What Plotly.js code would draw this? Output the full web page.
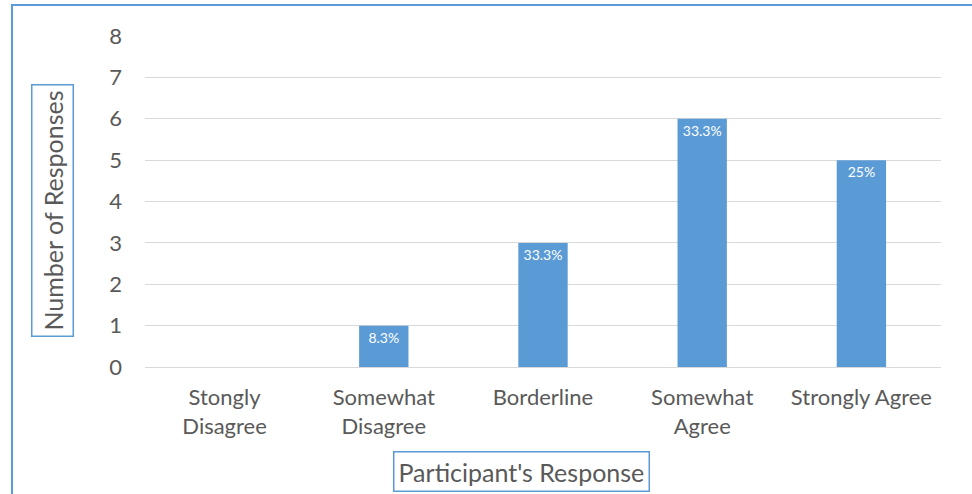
<!DOCTYPE html>
<html>
<head>
<meta charset="utf-8">
<script src="https://cdn.plot.ly/plotly-3.0.1.min.js"></script>
<style>html,body{margin:0;padding:0;background:#fff;}#chart{width:972px;height:494px;}</style>
</head>
<body>
<div id="chart"></div>
<script>
const categories = ["Stongly<br>Disagree", "Somewhat<br>Disagree", "Borderline", "Somewhat<br>Agree", "Strongly Agree"];
const responses = [0, 1, 3, 6, 5];
const percentLabels = ["", "8.3%", "33.3%", "33.3%", "25%"];
const yTicks = [0, 1, 2, 3, 4, 5, 6, 7, 8];
const xTitle = "Participant's Response";
const yTitle = "Number of Responses";

const FONT = "Lato, 'Open Sans', sans-serif";
const GREY = "#595959";
const BLUE = "#5b9bd5";

const trace = {
  type: "bar",
  x: categories,
  y: responses,
  text: percentLabels,
  textposition: "inside",
  insidetextanchor: "end",
  textangle: 0,
  constraintext: "none",
  textfont: {family: FONT, size: 14, color: "#ffffff"},
  marker: {color: BLUE},
  hoverinfo: "x+y"
};

const layout = {
  width: 972, height: 494,
  margin: {l: 145, r: 31, t: 36, b: 127, pad: 0},
  paper_bgcolor: "#ffffff",
  plot_bgcolor: "#ffffff",
  showlegend: false,
  bargap: 0.69,
  font: {family: FONT, color: GREY},
  xaxis: {
    type: "category",
    showgrid: false, showline: false, zeroline: false,
    ticks: "", ticklabelstandoff: 15,
    tickfont: {family: FONT, size: 22, color: GREY}
  },
  yaxis: {
    range: [0, 8],
    tickvals: yTicks,
    showgrid: true, gridcolor: "#d9d9d9", gridwidth: 1,
    zeroline: true, zerolinecolor: "#d9d9d9", zerolinewidth: 1,
    showline: false, ticks: "", ticklabelstandoff: 22,
    tickfont: {family: FONT, size: 22, color: GREY}
  },
  shapes: [
    {type: "rect", xref: "paper", yref: "paper",
     x0: -0.1671, x1: 1.05, y0: -0.40, y1: 1.0937,
     line: {color: BLUE, width: 2}, fillcolor: "rgba(0,0,0,0)", layer: "below"}
  ],
  annotations: [
    {text: yTitle, xref: "paper", yref: "paper", x: -0.1162, y: 0.4728,
     xanchor: "center", yanchor: "middle", textangle: -90, showarrow: false,
     font: {family: FONT, size: 25, color: GREY},
     bordercolor: BLUE, borderwidth: 1.5, borderpad: 5, bgcolor: "#ffffff"},
    {text: xTitle, xref: "paper", yref: "paper", x: 0.4736, y: -0.3157,
     xanchor: "center", yanchor: "middle", showarrow: false,
     font: {family: FONT, size: 25, color: GREY},
     bordercolor: BLUE, borderwidth: 1.5, borderpad: 4, bgcolor: "#ffffff"}
  ]
};

Plotly.newPlot("chart", [trace], layout, {displayModeBar: false, staticPlot: true});
</script>
</body>
</html>
